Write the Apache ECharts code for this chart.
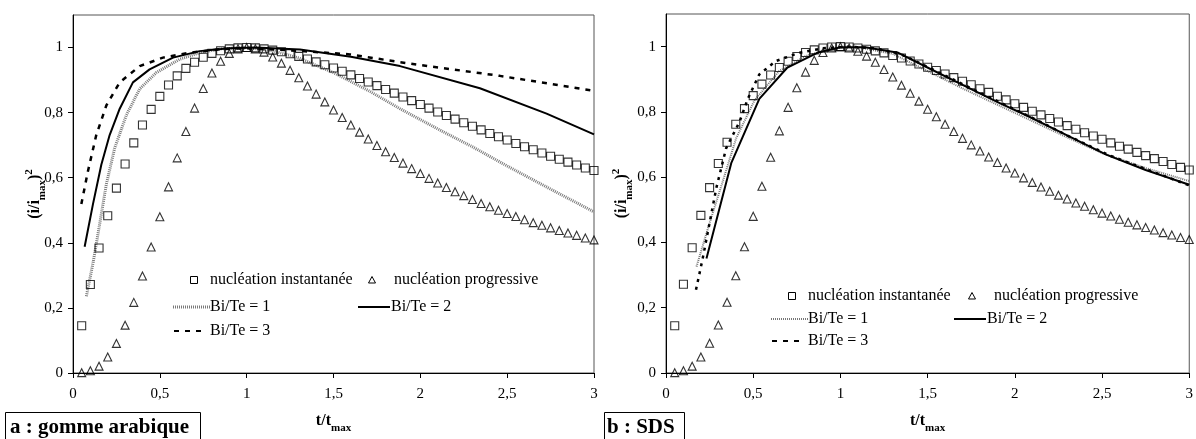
<!DOCTYPE html>
<html>
<head>
<meta charset="utf-8">
<script src="https://cdn.jsdelivr.net/npm/echarts@6/dist/echarts.min.js"></script>
<style>
html,body{margin:0;padding:0;background:#fff;}
#c{width:1196px;height:439px;}
</style>
</head>
<body>
<div id="c"></div>
<script>
// ---- data ----
var tValues = [0.05,0.1,0.15,0.2,0.25,0.3,0.35,0.4,0.45,0.5,0.55,0.6,0.65,0.7,0.75,0.8,0.85,0.9,0.95,1.0,
  1.05,1.1,1.15,1.2,1.25,1.3,1.35,1.4,1.45,1.5,1.55,1.6,1.65,1.7,1.75,1.8,1.85,1.9,1.95,2.0,
  2.05,2.1,2.15,2.2,2.25,2.3,2.35,2.4,2.45,2.5,2.55,2.6,2.65,2.7,2.75,2.8,2.85,2.9,2.95,3.0];
var instantanee = [0.145,0.272,0.384,0.483,0.568,0.642,0.707,0.762,0.810,0.850,0.885,0.913,0.936,0.955,0.970,0.982,0.990,0.996,0.999,1.000,
  0.999,0.996,0.992,0.987,0.981,0.973,0.965,0.956,0.947,0.937,0.927,0.916,0.905,0.894,0.883,0.871,0.860,0.848,0.837,0.825,
  0.814,0.802,0.791,0.780,0.769,0.758,0.747,0.736,0.726,0.716,0.705,0.695,0.686,0.676,0.666,0.657,0.648,0.639,0.630,0.622];
var progressive = [0.001,0.007,0.021,0.049,0.091,0.147,0.217,0.298,0.387,0.480,0.572,0.661,0.742,0.814,0.874,0.922,0.958,0.982,0.996,1.000,
  0.996,0.986,0.971,0.952,0.930,0.907,0.882,0.857,0.833,0.808,0.785,0.762,0.740,0.719,0.699,0.680,0.662,0.645,0.628,0.613,
  0.598,0.584,0.570,0.557,0.545,0.533,0.521,0.511,0.500,0.490,0.481,0.471,0.462,0.454,0.446,0.438,0.430,0.423,0.415,0.409];

// panel a : gomme arabique
var a_BiTe1 = [[0.077,0.236],[0.115,0.337],[0.154,0.459],[0.192,0.58],[0.24,0.691],[0.307,0.792],[0.384,0.873],[0.48,0.923],[0.614,0.964],[0.729,0.984],[0.85,0.996],[1.0,1.0],[1.15,0.99],[1.3,0.968],[1.5,0.923],[1.7,0.868],[1.883,0.812],[2.1,0.75],[2.3,0.695],[2.5,0.636],[2.75,0.565],[3.0,0.495]];
var a_BiTe2 = [[0.067,0.388],[0.115,0.519],[0.163,0.64],[0.211,0.731],[0.269,0.812],[0.345,0.893],[0.441,0.933],[0.576,0.969],[0.729,0.989],[0.9,0.998],[1.05,1.0],[1.307,0.994],[1.6,0.972],[1.883,0.943],[2.343,0.875],[2.727,0.797],[3.0,0.733]];
var a_BiTe3 = [[0.048,0.519],[0.086,0.62],[0.134,0.731],[0.192,0.822],[0.269,0.893],[0.384,0.943],[0.518,0.969],[0.672,0.984],[0.85,0.995],[1.0,0.998],[1.3,0.99],[1.595,0.979],[1.883,0.955],[2.458,0.913],[3.0,0.867]];

// panel b : SDS
var b_BiTe1 = [[0.175,0.326],[0.25,0.46],[0.326,0.588],[0.402,0.719],[0.507,0.835],[0.649,0.925],[0.801,0.971],[0.95,0.995],[1.1,0.998],[1.3,0.978],[1.5,0.925],[1.7,0.872],[1.9,0.822],[2.1,0.772],[2.3,0.722],[2.5,0.674],[2.75,0.628],[3.0,0.588]];
var b_BiTe2 = [[0.232,0.351],[0.374,0.643],[0.535,0.84],[0.696,0.936],[0.867,0.981],[1.0,0.998],[1.142,0.998],[1.332,0.981],[1.522,0.93],[1.712,0.88],[1.901,0.83],[2.068,0.789],[2.3,0.728],[2.524,0.669],[2.75,0.622],[3.0,0.577]];
var b_BiTe3 = [[0.172,0.255],[0.21,0.35],[0.25,0.46],[0.289,0.568],[0.345,0.689],[0.421,0.769],[0.469,0.84],[0.535,0.915],[0.63,0.956],[0.763,0.981],[0.9,0.995],[1.05,1.0],[1.2,0.995],[1.35,0.976],[1.55,0.925],[1.75,0.872],[1.95,0.82],[2.1,0.782],[2.3,0.728],[2.55,0.665],[2.8,0.615],[3.0,0.575]];

var xTicks = [0,0.5,1,1.5,2,2.5,3];
var yTicks = [0,0.2,0.4,0.6,0.8,1];
var legendNames = ['nucléation instantanée','nucléation progressive','Bi/Te = 1','Bi/Te = 2','Bi/Te = 3'];
var panelLabels = ['a : gomme arabique','b : SDS'];

// ---- build ----
var FONT = 'Liberation Serif';
function pairs(vals){ return tValues.map(function(t,i){ return [t, vals[i]]; }); }
function fmt(v){ return String(Math.round(v*10)/10).replace('.', ','); }

function xAxis(gi){
  return {
    type:'value', gridIndex:gi, min:0, max:3, interval:0.5,
    name:'{b|t/t}{s|max}', nameLocation:'middle', nameGap:38, nameMoveOverlap:false,
    nameTextStyle:{rich:{
      b:{fontFamily:FONT,fontSize:16,fontWeight:'bold',color:'#000',lineHeight:20,verticalAlign:'middle'},
      s:{fontFamily:FONT,fontSize:11,fontWeight:'bold',color:'#000',verticalAlign:'bottom',lineHeight:20,padding:[0,0,-3,0]}
    }},
    axisLine:{show:true,onZero:false,lineStyle:{color:'#000',width:1}},
    axisTick:{show:true,length:5,lineStyle:{color:'#000'},customValues:xTicks},
    axisLabel:{fontFamily:FONT,fontSize:15,color:'#000',margin:14,formatter:fmt,customValues:xTicks},
    splitLine:{show:false}
  };
}
function yAxis(gi, gap){
  return {
    type:'value', gridIndex:gi, min:0, max:1.1, interval:0.2,
    name:'{b|(i/i}{s|max}{b|)}{p|2}', nameLocation:'middle', nameGap:gap, nameRotate:90, nameMoveOverlap:false,
    nameTextStyle:{rich:{
      b:{fontFamily:FONT,fontSize:16,fontWeight:'bold',color:'#000',lineHeight:22,verticalAlign:'middle'},
      s:{fontFamily:FONT,fontSize:11,fontWeight:'bold',color:'#000',verticalAlign:'bottom',lineHeight:22,padding:[0,0,-2,0]},
      p:{fontFamily:FONT,fontSize:11,fontWeight:'bold',color:'#000',verticalAlign:'top',lineHeight:22}
    }},
    axisLine:{show:true,onZero:false,lineStyle:{color:'#000',width:1}},
    axisTick:{show:true,length:5,lineStyle:{color:'#000'},customValues:yTicks},
    axisLabel:{fontFamily:FONT,fontSize:15,color:'#000',margin:10,formatter:fmt,customValues:yTicks},
    splitLine:{show:false}
  };
}
function scatter(gi, vals, sym, size){
  return {type:'scatter', xAxisIndex:gi, yAxisIndex:gi, data:pairs(vals), symbol:sym, symbolSize:size,
    itemStyle:{color:'rgba(0,0,0,0)', borderColor:'#000', borderWidth:1.1}, z:5, silent:true};
}
function line(gi, data, style){
  return {type:'line', xAxisIndex:gi, yAxisIndex:gi, data:data, showSymbol:false, symbol:'none',
    lineStyle:style, z:3, silent:true};
}
var gray1a = {color:'#7a7a7a', width:3, type:[1,1]};
var gray1b = {color:'#777', width:2, type:[1,1]};
var solid2 = {color:'#000', width:2, type:'solid'};
var dash3a = {color:'#000', width:2.5, type:[5,6]};
var dash3b = {color:'#000', width:2.5, type:[3,5]};

var graphics = [];
function legend(x0, y1, y2, y3, xTri, xBi2, grayStyle){
  graphics.push({type:'rect', shape:{x:x0+13.5, y:y1-3.5, width:7, height:7}, style:{fill:'none', stroke:'#000', lineWidth:1}});
  graphics.push({type:'text', x:x0+33, y:y1, style:{text:legendNames[0], font:'16px "Liberation Serif"', fill:'#000', verticalAlign:'middle'}});
  graphics.push({type:'polygon', shape:{points:[[xTri,y1-3.5],[xTri-3.5,y1+3],[xTri+3.5,y1+3]]}, style:{fill:'none', stroke:'#000', lineWidth:1}});
  graphics.push({type:'text', x:xTri+22, y:y1, style:{text:legendNames[1], font:'16px "Liberation Serif"', fill:'#000', verticalAlign:'middle'}});
  graphics.push({type:'line', shape:{x1:x0-4, y1:y2, x2:x0+33, y2:y2}, style:{stroke:grayStyle.color, lineWidth:grayStyle.width, lineDash:[1,1]}});
  graphics.push({type:'text', x:x0+33, y:y2, style:{text:legendNames[2], font:'16px "Liberation Serif"', fill:'#000', verticalAlign:'middle'}});
  graphics.push({type:'line', shape:{x1:xBi2-32, y1:y2, x2:xBi2, y2:y2}, style:{stroke:'#000', lineWidth:2}});
  graphics.push({type:'text', x:xBi2+1, y:y2, style:{text:legendNames[3], font:'16px "Liberation Serif"', fill:'#000', verticalAlign:'middle'}});
  graphics.push({type:'line', shape:{x1:x0-3, y1:y3, x2:x0+28, y2:y3}, style:{stroke:'#000', lineWidth:2, lineDash:[5,6]}});
  graphics.push({type:'text', x:x0+33, y:y3, style:{text:legendNames[4], font:'16px "Liberation Serif"', fill:'#000', verticalAlign:'middle'}});
}
legend(177, 280, 307, 331, 372, 390, gray1a);
legend(775, 296, 319, 341, 972, 986, gray1b);

// panel labels
graphics.push({type:'rect', shape:{x:5.5, y:412.5, width:195, height:30}, style:{fill:'#fff', stroke:'#000', lineWidth:1}});
graphics.push({type:'text', x:10, y:428, style:{text:panelLabels[0], font:'bold 21px "Liberation Serif"', fill:'#000', verticalAlign:'middle'}});
graphics.push({type:'rect', shape:{x:604.5, y:412.5, width:80, height:30}, style:{fill:'#fff', stroke:'#000', lineWidth:1}});
graphics.push({type:'text', x:607, y:428, style:{text:panelLabels[1], font:'bold 21px "Liberation Serif"', fill:'#000', verticalAlign:'middle'}});

var option = {
  animation:false,
  backgroundColor:'#fff',
  grid:[
    {left:73, right:602, top:15, bottom:61, show:true, borderColor:'#555', borderWidth:1, containLabel:false},
    {left:666, right:3, top:14, bottom:61, show:true, borderColor:'#555', borderWidth:1, containLabel:false}
  ],
  xAxis:[xAxis(0), xAxis(1)],
  yAxis:[yAxis(0, 27), yAxis(1, 33)],
  series:[
    scatter(0, instantanee, 'rect', 8),
    scatter(0, progressive, 'triangle', 8),
    line(0, a_BiTe1, gray1a),
    line(0, a_BiTe2, solid2),
    line(0, a_BiTe3, dash3a),
    scatter(1, instantanee, 'rect', 8),
    scatter(1, progressive, 'triangle', 8),
    line(1, b_BiTe1, gray1b),
    line(1, b_BiTe2, solid2),
    line(1, b_BiTe3, dash3b)
  ],
  graphic:graphics
};
var chart = echarts.init(document.getElementById('c'), null, {renderer:'canvas'});
chart.setOption(option);
</script>
</body>
</html>
